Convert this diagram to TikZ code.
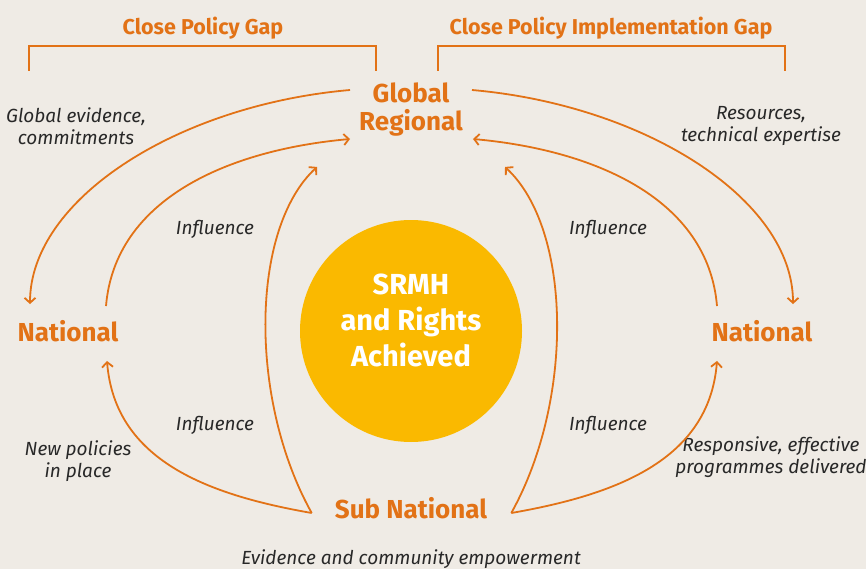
\documentclass[tikz,border=0pt]{standalone}
\usepackage{fontspec}
\setmainfont{Fira Sans}
\usepackage{tikz}
\usetikzlibrary{arrows.meta,shapes}
\definecolor{srorange}{RGB}{226,114,22}
\definecolor{sryellow}{RGB}{250,185,0}
\definecolor{paper}{RGB}{239,235,229}
\definecolor{ink}{RGB}{40,40,40}
\tikzstyle{level}=[text=srorange,font=\bfseries\fontsize{26}{28}\selectfont,align=center,inner sep=0pt]
\tikzstyle{gaptitle}=[text=srorange,font=\bfseries\fontsize{21.5}{26}\selectfont,inner sep=0pt]
\tikzstyle{note}=[text=ink,font=\itshape\fontsize{19}{22}\selectfont,align=center,inner sep=0pt]
\tikzstyle{goal}=[circle,fill=sryellow,minimum size=222pt]
\tikzstyle{goaltext}=[text=white,font=\bfseries\fontsize{29}{36}\selectfont,align=center,inner sep=0pt]
\tikzstyle{flow}=[draw=srorange,line width=1.8pt,-{Straight Barb[length=5pt,width=11pt]}]
\tikzstyle{bracket}=[draw=srorange,line width=1.6pt]

\begin{document}
\begin{tikzpicture}[x=1pt,y=-1pt]
      \fill[paper] (0,0) rectangle (866,569);
      \useasboundingbox (0,0) rectangle (866,569);
      % gaps
      \node[gaptitle] (gapl) at (203,28) {Close Policy Gap};
      \node[gaptitle] (gapr) at (611,28) {Close Policy Implementation Gap};
      \draw[bracket] (29,71) |- (376,46) -- (376,71);
      \draw[bracket] (438,71) |- (785,46) -- (785,71);
      % levels
      \node[goal] (srmh) at (411,331) {};
      \node[goaltext] (srmhtxt) at (411,320) {SRMH\\and Rights\\Achieved};
      \node[level] (glob) at (411,110) {Global\\Regional};
      \node[level] (natl) at (68,331) {National};
      \node[level] (natr) at (762,331) {National};
      \node[level] (sub) at (411,508) {Sub National};
      % notes
      \node[note] (evid) at (76,126) {Global evidence,\\commitments};
      \node[note] (reso) at (761,126) {Resources,\\technical expertise};
      \node[note] (infa) at (215,229) {Influence};
      \node[note] (infb) at (608,229) {Influence};
      \node[note] (infc) at (215,425) {Influence};
      \node[note] (infd) at (608,425) {Influence};
      \node[note] (newp) at (78,461) {New policies\\in place};
      \node[note] (resp) at (771,457) {Responsive, effective\\programmes delivered};
      \node[note] (comm) at (411,559) {Evidence and community empowerment};
      % flows
      \draw[flow] ([shift={(-9,-20)}]glob.west) .. controls +(-172,15) and +(0,-105) .. ([shift={(-38,-16)}]natl.north);
      \draw[flow] ([shift={(38,-14)}]natl.north) .. controls +(9,-107) and +(-122,11) .. ([shift={(-9,29)}]glob.west);
      \draw[flow] ([shift={(9,-20)}]glob.east) .. controls +(172,15) and +(0,-105) .. ([shift={(31,-16)}]natr.north);
      \draw[flow] ([shift={(-45,-14)}]natr.north) .. controls +(-9,-107) and +(122,11) .. ([shift={(10,29)}]glob.east);
      \draw[flow] ([shift={(-23,5)}]sub.west) .. controls +(-103,-18) and +(8,100) .. ([shift={(39,19)}]natl.south);
      \draw[flow] ([shift={(-23,5)}]sub.west) .. controls +(-63,-113) and +(-67,62) .. ([shift={(-94,30)}]glob.south);
      \draw[flow] ([shift={(24,5)}]sub.east) .. controls +(103,-18) and +(-8,100) .. ([shift={(-45,19)}]natr.south);
      \draw[flow] ([shift={(24,5)}]sub.east) .. controls +(63,-113) and +(67,62) .. ([shift={(94,30)}]glob.south);
\end{tikzpicture}
\end{document}
